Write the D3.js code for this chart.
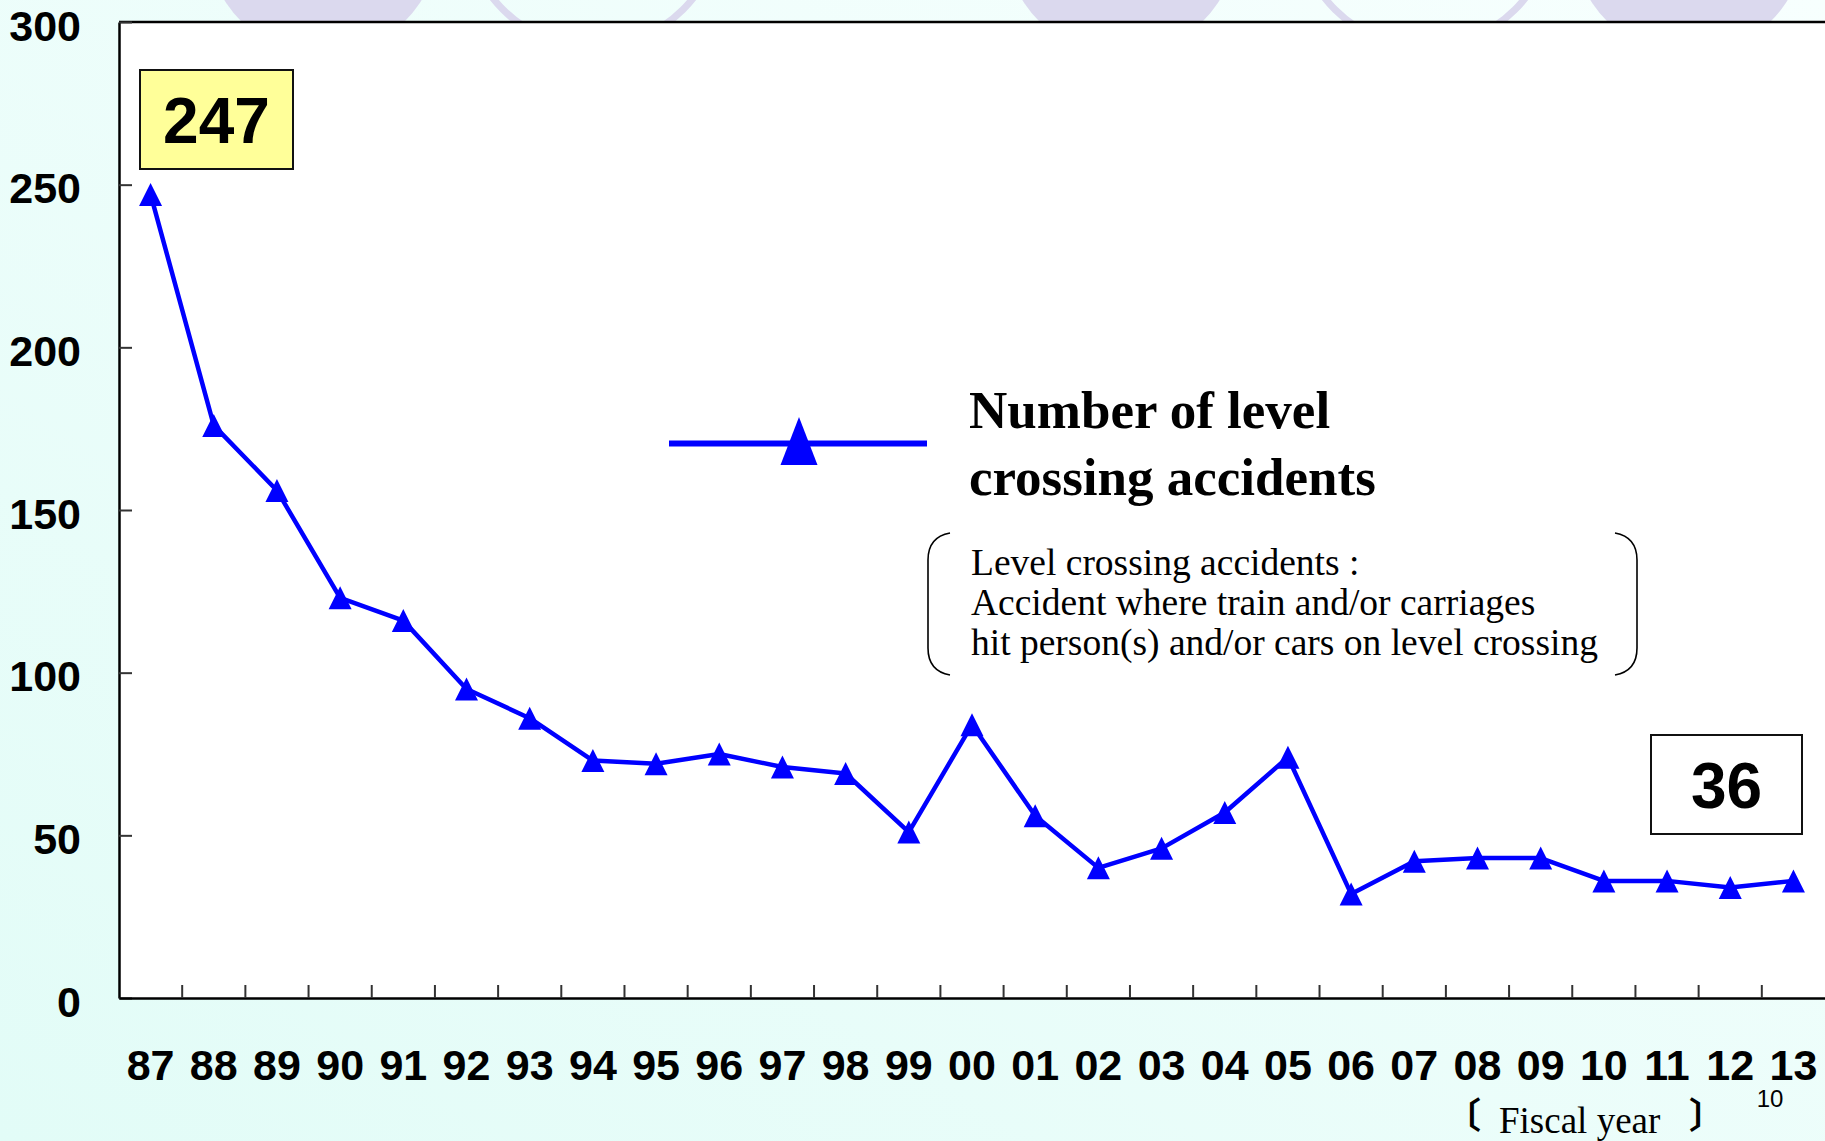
<!DOCTYPE html>
<html>
<head>
<meta charset="utf-8">
<script src="https://cdn.jsdelivr.net/npm/d3@7"></script>
<style>
  html, body { margin: 0; padding: 0; overflow: hidden; background: #fff; }
  svg { display: block; }
</style>
</head>
<body>
<div id="chart"></div>
<script>
// Level crossing accidents by fiscal year

const fiscalYears = ["87", "88", "89", "90", "91", "92", "93", "94", "95", "96", "97", "98", "99",
  "00", "01", "02", "03", "04", "05", "06", "07", "08", "09", "10", "11", "12", "13"]
const accidents = [247, 176, 156, 123, 116, 95, 86, 73, 72, 75, 71, 69, 51,
  84, 56, 40, 46, 57, 74, 32, 42, 43, 43, 36, 36, 34, 36]
const yTickValues = [0, 50, 100, 150, 200, 250, 300]
const legendTitle = ["Number of level", "crossing accidents"]
const noteLines = [
  "Level crossing accidents :",
  "Accident where train and/or carriages",
  "hit person(s) and/or cars on level crossing",
]
const xAxisTitle = "Fiscal year"
const pageNumber = "10"

const width = 1825
const height = 1141
const plot = { left: 119, right: 1825, top: 22, bottom: 998 }
const lineColor = "#0000ff"
const sansBold = "'Liberation Sans', Arial, sans-serif"
const serif = "'Liberation Serif', 'Times New Roman', serif"

const svg = d3.select("#chart").append("svg").attr("width", width).attr("height", height)

// Slide background
const defs = svg.append("defs")
const grad = defs
  .append("linearGradient")
  .attr("id", "bg")
  .attr("x1", "0")
  .attr("y1", "1")
  .attr("x2", "1")
  .attr("y2", "0")
grad.append("stop").attr("offset", "0%").attr("stop-color", "#e2fcf7")
grad.append("stop").attr("offset", "100%").attr("stop-color", "#f7fffe")
svg.append("rect").attr("width", width).attr("height", height).attr("fill", "url(#bg)")

// decorative circles peeking above the plot
const deco = svg.append("g")
;[323, 1121, 1689].forEach((cx) => {
  deco.append("circle").attr("cx", cx).attr("cy", -61).attr("r", 116).attr("fill", "#dbd9ee")
})
;[593, 1425].forEach((cx) => {
  deco
    .append("circle")
    .attr("cx", cx)
    .attr("cy", -80)
    .attr("r", 127)
    .attr("fill", "none")
    .attr("stroke", "#dbd9ee")
    .attr("stroke-width", 7)
})

// Scales
const x = d3.scaleBand().domain(fiscalYears).range([plot.left, plot.right]).padding(0)
const y = d3.scaleLinear().domain([0, 300]).range([plot.bottom, plot.top])
const cx = (i) => x(fiscalYears[i]) + x.bandwidth() / 2

// Plot area
svg
  .append("rect")
  .attr("x", plot.left)
  .attr("y", plot.top)
  .attr("width", plot.right - plot.left + 10)
  .attr("height", plot.bottom - plot.top)
  .attr("fill", "#fff")

svg
  .append("line")
  .attr("x1", plot.left)
  .attr("x2", plot.right)
  .attr("y1", y(300))
  .attr("y2", y(300))
  .attr("stroke", "#000")
  .attr("stroke-width", 2.5)

// Y axis
const yAxis = d3.axisLeft(y).tickValues(yTickValues).tickSizeInner(-13).tickSizeOuter(0).tickPadding(38)
const gy = svg.append("g").attr("transform", `translate(${plot.left},0)`).call(yAxis)
gy.select(".domain").attr("stroke", "#000").attr("stroke-width", 2.5)
gy.selectAll(".tick line").attr("stroke", "#333").attr("stroke-width", 2)
gy.selectAll(".tick text")
  .attr("font-family", sansBold)
  .attr("font-weight", "bold")
  .attr("font-size", 43)
  .attr("fill", "#000")
  .attr("dy", "0.42em")

// X axis (labels centred in each band, tick marks on band edges)
const xAxis = d3.axisBottom(x).tickSize(0).tickPadding(51)
const gx = svg.append("g").attr("transform", `translate(0,${plot.bottom})`).call(xAxis)
gx.select(".domain").attr("stroke", "#000").attr("stroke-width", 2.5)
gx.selectAll(".tick text")
  .attr("font-family", sansBold)
  .attr("font-weight", "bold")
  .attr("font-size", 43)
  .attr("fill", "#000")

svg
  .append("g")
  .selectAll("line")
  .data(fiscalYears.slice(1))
  .join("line")
  .attr("x1", (d) => x(d))
  .attr("x2", (d) => x(d))
  .attr("y1", plot.bottom)
  .attr("y2", plot.bottom - 13)
  .attr("stroke", "#333")
  .attr("stroke-width", 2)

// Series
const line = d3
  .line()
  .x((d, i) => cx(i))
  .y((d) => y(d))

svg
  .append("path")
  .datum(accidents)
  .attr("d", line)
  .attr("fill", "none")
  .attr("stroke", lineColor)
  .attr("stroke-width", 4.5)
  .attr("stroke-linejoin", "round")

const triangle = (w, h) => `M0,${-h / 2}L${w / 2},${h / 2}L${-w / 2},${h / 2}Z`

svg
  .append("g")
  .selectAll("path")
  .data(accidents)
  .join("path")
  .attr("d", triangle(23, 23))
  .attr("transform", (d, i) => `translate(${cx(i)},${y(d)})`)
  .attr("fill", lineColor)

// Value call-outs for first and last year
const callout = (value, bx, by, bw, bh, fill) => {
  const g = svg.append("g")
  g.append("rect")
    .attr("x", bx)
    .attr("y", by)
    .attr("width", bw)
    .attr("height", bh)
    .attr("fill", fill)
    .attr("stroke", "#111")
    .attr("stroke-width", 2)
  g.append("text")
    .attr("x", bx + bw / 2)
    .attr("y", by + bh / 2 + 23)
    .attr("text-anchor", "middle")
    .attr("font-family", sansBold)
    .attr("font-weight", "bold")
    .attr("font-size", 64)
    .attr("fill", "#000")
    .text(value)
}
callout(accidents[0], 140, 70, 153, 99, "#ffff99")
callout(accidents[accidents.length - 1], 1651, 735, 151, 99, "#fff")

// Legend
const legend = svg.append("g")
legend
  .append("line")
  .attr("x1", 669)
  .attr("x2", 927)
  .attr("y1", 443.5)
  .attr("y2", 443.5)
  .attr("stroke", lineColor)
  .attr("stroke-width", 6)
legend.append("path").attr("d", triangle(37, 48)).attr("transform", "translate(799,441)").attr("fill", lineColor)
legend
  .selectAll("text")
  .data(legendTitle)
  .join("text")
  .attr("x", 969)
  .attr("y", (d, i) => 428 + i * 67)
  .attr("font-family", serif)
  .attr("font-weight", "bold")
  .attr("font-size", 53)
  .attr("fill", "#000")
  .text((d) => d)

// Definition note in a bracket pair
const note = svg.append("g")
note
  .append("path")
  .attr("d", "M950,533 Q928,537 928,560 L928,648 Q928,671 950,675")
  .attr("fill", "none")
  .attr("stroke", "#000")
  .attr("stroke-width", 1.6)
note
  .append("path")
  .attr("d", "M1615,533 Q1637,537 1637,560 L1637,648 Q1637,671 1615,675")
  .attr("fill", "none")
  .attr("stroke", "#000")
  .attr("stroke-width", 1.6)
note
  .selectAll("text")
  .data(noteLines)
  .join("text")
  .attr("x", 971)
  .attr("y", (d, i) => 575 + i * 40)
  .attr("font-family", serif)
  .attr("font-size", 37.5)
  .attr("fill", "#000")
  .text((d) => d)

// Axis title and page number
const cjk = "'Noto Sans CJK JP', 'Noto Sans', sans-serif"
svg
  .append("text")
  .attr("x", 1445)
  .attr("y", 1129)
  .attr("font-family", cjk)
  .attr("font-weight", "bold")
  .attr("font-size", 36)
  .attr("fill", "#000")
  .text("〔")
svg
  .append("text")
  .attr("x", 1499)
  .attr("y", 1133)
  .attr("font-family", serif)
  .attr("font-size", 37)
  .attr("fill", "#000")
  .text(xAxisTitle)
svg
  .append("text")
  .attr("x", 1689)
  .attr("y", 1129)
  .attr("font-family", cjk)
  .attr("font-weight", "bold")
  .attr("font-size", 36)
  .attr("fill", "#000")
  .text("〕")
svg
  .append("text")
  .attr("x", 1770)
  .attr("y", 1107)
  .attr("text-anchor", "middle")
  .attr("font-family", "'Liberation Sans', Arial, sans-serif")
  .attr("font-size", 24)
  .attr("fill", "#000")
  .text(pageNumber)
</script>
</body>
</html>
